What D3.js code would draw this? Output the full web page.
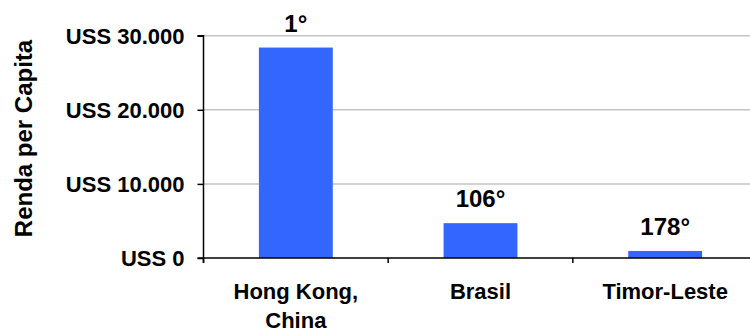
<!DOCTYPE html>
<html>
<head>
<meta charset="utf-8">
<script src="https://cdn.jsdelivr.net/npm/d3@7"></script>
<style>
  html, body { margin: 0; padding: 0; background: #fff; }
  svg { display: block; }
  text { font-family: "Liberation Sans", Arial, sans-serif; font-weight: bold; fill: #000; }
</style>
</head>
<body>
<svg id="chart" width="750" height="331"></svg>
<script>
// Income per capita and world ranking
const countries = [["Hong Kong,", "China"], ["Brasil"], ["Timor-Leste"]];
const incomes = [28400, 4700, 950];
const rankings = ["1°", "106°", "178°"];
const yTicks = [0, 10000, 20000, 30000];
const yTickLabels = ["USS 0", "USS 10.000", "USS 20.000", "USS 30.000"];

const svg = d3.select("#chart");
const plotLeft = 203.5, plotRight = 757.5, plotTop = 35.7, plotBottom = 258;

const x = d3.scaleBand()
  .domain(d3.range(countries.length))
  .range([plotLeft, plotRight])
  .paddingInner(0.6)
  .paddingOuter(0.3);

// band boundaries for the category ticks
const step = (plotRight - plotLeft) / countries.length;

const y = d3.scaleLinear().domain([0, 30000]).range([plotBottom, plotTop]);

// gridlines
svg.append("g")
  .selectAll("line")
  .data(yTicks.filter(d => d > 0))
  .join("line")
  .attr("x1", plotLeft).attr("x2", 750)
  .attr("y1", d => y(d)).attr("y2", d => y(d))
  .attr("stroke", "#c4c4c4")
  .attr("stroke-width", 1.5);

// bars
svg.append("g")
  .selectAll("rect")
  .data(incomes)
  .join("rect")
  .attr("x", (d, i) => x(i))
  .attr("width", x.bandwidth())
  .attr("y", d => y(d))
  .attr("height", d => y(0) - y(d))
  .attr("fill", "#3366ff");

// ranking labels above the bars
svg.append("g")
  .selectAll("text")
  .data(incomes)
  .join("text")
  .attr("x", (d, i) => x(i) + x.bandwidth() / 2)
  .attr("y", d => y(d) - 16)
  .attr("text-anchor", "middle")
  .style("font-size", "24px")
  .text((d, i) => rankings[i]);

// y axis
const yAxis = d3.axisLeft(y)
  .tickValues(yTicks)
  .tickFormat((d, i) => yTickLabels[i])
  .tickSize(6)
  .tickPadding(13);
const gy = svg.append("g").attr("transform", `translate(${plotLeft},0)`).call(yAxis);
gy.select(".domain").attr("stroke", "#000").attr("stroke-width", 1.5).attr("d", `M-6,${plotTop}H0V${plotBottom + 5}`);
gy.selectAll(".tick line").attr("stroke", "#000").attr("stroke-width", 1.5);
gy.selectAll(".tick text")
  .style("font-size", "22px")
  .style("font-family", '"Liberation Sans", Arial, sans-serif')
  .style("font-weight", "bold")
  .attr("fill", "#000")
  .attr("dy", "0.36em");

// x axis baseline with category boundary ticks
svg.append("line")
  .attr("x1", plotLeft - 6).attr("x2", 750)
  .attr("y1", plotBottom).attr("y2", plotBottom)
  .attr("stroke", "#000").attr("stroke-width", 1.5);
svg.append("g")
  .selectAll("line")
  .data(d3.range(countries.length + 1))
  .join("line")
  .attr("x1", i => plotLeft + i * step).attr("x2", i => plotLeft + i * step)
  .attr("y1", plotBottom).attr("y2", plotBottom + 5)
  .attr("stroke", "#000").attr("stroke-width", 1.5);

// category labels
const cat = svg.append("g")
  .selectAll("text")
  .data(countries)
  .join("text")
  .attr("x", (d, i) => x(i) + x.bandwidth() / 2)
  .attr("y", 299)
  .attr("text-anchor", "middle")
  .style("font-size", "22px");
cat.selectAll("tspan")
  .data(d => d)
  .join("tspan")
  .attr("x", function () { return d3.select(this.parentNode).attr("x"); })
  .attr("dy", (d, i) => i === 0 ? 0 : 29)
  .text(d => d);

// y axis title
svg.append("text")
  .attr("transform", `translate(31.7,${(37 + 240) / 2}) rotate(-90)`)
  .attr("text-anchor", "middle")
  .style("font-size", "24px")
  .text("Renda per Capita");
</script>
</body>
</html>
